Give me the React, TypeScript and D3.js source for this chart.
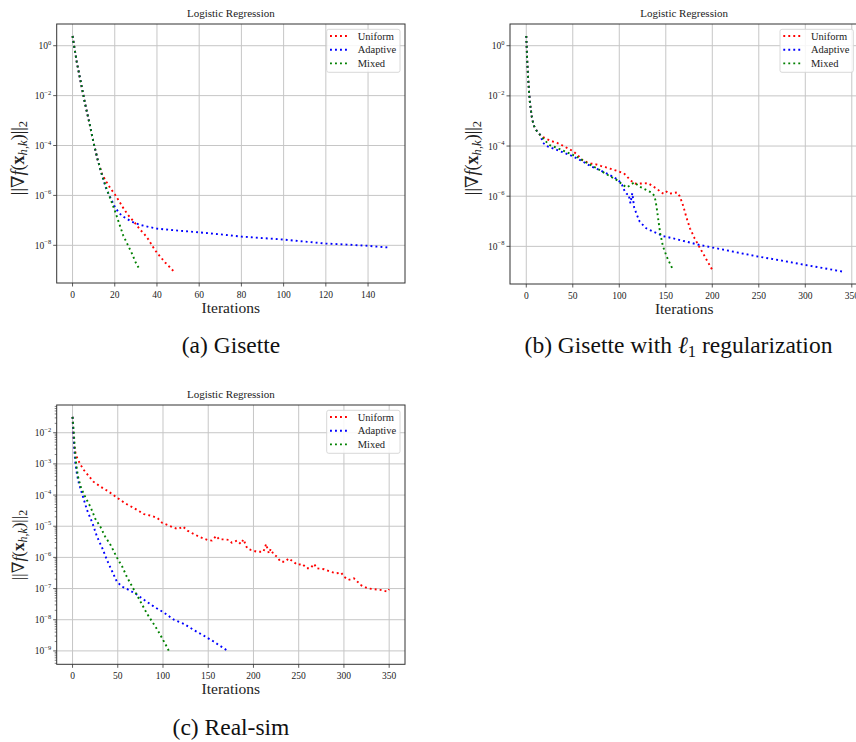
import React from 'react';
import * as d3 from 'd3';

// (a) Gisette
const gisetteUniformIter = [0, 2, 4, 6, 8, 10, 12, 14, 16, 18, 20, 22, 24, 26, 28, 30, 32, 34, 36, 38, 40, 42, 44, 46, 48];
const gisetteUniformExp = [0.39, -0.65, -1.5, -2.35, -3.1, -3.9, -4.6, -5.15, -5.45, -5.72, -5.95, -6.22, -6.5, -6.75, -6.95, -7.15, -7.37, -7.55, -7.77, -8.05, -8.3, -8.5, -8.7, -8.87, -9.05];
const gisetteAdaptiveIter = [0, 2, 4, 6, 8, 10, 12, 14, 16, 18, 20, 22, 24, 26, 28, 30, 32, 36, 40, 50, 60, 70, 80, 90, 100, 110, 120, 130, 140, 150];
const gisetteAdaptiveExp = [0.39, -0.65, -1.5, -2.35, -3.1, -3.9, -4.6, -5.2, -5.75, -6.1, -6.45, -6.7, -6.85, -6.95, -7.05, -7.12, -7.18, -7.26, -7.33, -7.41, -7.48, -7.56, -7.65, -7.71, -7.77, -7.85, -7.93, -7.97, -8.02, -8.09];
const gisetteMixedIter = [0, 2, 4, 6, 8, 10, 12, 14, 16, 18, 20, 22, 24, 26, 28, 30, 32];
const gisetteMixedExp = [0.39, -0.65, -1.5, -2.35, -3.1, -3.9, -4.6, -5.2, -5.7, -6.15, -6.6, -7.1, -7.6, -7.95, -8.3, -8.7, -9.0];

// (b) Gisette with l1 regularization
const l1UniformIter = [0, 1, 2, 3, 4, 6, 8, 11, 15, 18, 22, 27, 33, 38, 45, 50, 55, 60, 65, 70, 75, 80, 85, 90, 95, 100, 105, 108, 111, 116, 120, 126, 131, 136, 141, 145, 148, 151, 154, 158, 162, 165, 168, 170, 172, 176, 181, 187, 194, 200];
const l1UniformExp = [0.39, -0.6, -1.3, -1.85, -2.3, -2.85, -3.18, -3.38, -3.56, -3.64, -3.72, -3.8, -3.87, -3.96, -4.1, -4.2, -4.35, -4.55, -4.64, -4.7, -4.73, -4.79, -4.84, -4.9, -4.96, -5.02, -5.09, -5.2, -5.33, -5.49, -5.5, -5.49, -5.48, -5.6, -5.72, -5.85, -5.91, -5.82, -5.9, -5.87, -5.85, -6.0, -6.3, -6.55, -6.82, -7.28, -7.68, -8.08, -8.54, -8.94];
const l1AdaptiveIter = [0, 1, 2, 3, 4, 6, 8, 11, 15, 18, 22, 27, 36, 47, 58, 70, 79, 90, 99, 103, 106, 108, 110, 112, 114, 116, 119, 122, 129, 137, 147, 158, 172, 187, 201, 225, 250, 275, 300, 320, 341];
const l1AdaptiveExp = [0.39, -0.6, -1.3, -1.85, -2.3, -2.85, -3.18, -3.38, -3.56, -3.87, -4.0, -4.07, -4.2, -4.36, -4.56, -4.82, -4.96, -5.16, -5.35, -5.55, -5.82, -5.91, -5.92, -6.28, -5.88, -6.45, -6.75, -7.02, -7.28, -7.42, -7.59, -7.68, -7.81, -7.95, -8.05, -8.23, -8.41, -8.57, -8.74, -8.87, -9.01];
const l1MixedIter = [0, 1, 2, 3, 4, 6, 8, 11, 15, 20, 25, 34, 45, 54, 65, 76, 86, 97, 104, 108, 111, 116, 122, 129, 135, 138, 140, 142, 144, 147, 151, 157];
const l1MixedExp = [0.39, -0.6, -1.3, -1.85, -2.3, -2.85, -3.18, -3.38, -3.56, -3.78, -3.96, -4.09, -4.27, -4.42, -4.67, -4.89, -5.12, -5.35, -5.55, -5.65, -5.58, -5.45, -5.62, -5.75, -5.86, -6.0, -6.4, -6.95, -7.48, -8.0, -8.41, -8.88];

// (c) Real-sim
const realUniformIter = [0, 1, 2, 3, 5, 8, 12, 18, 23, 31, 40, 49, 58, 68, 79, 88, 94, 99, 105, 112, 117, 122, 127, 134, 141, 149, 154, 159, 162, 167, 173, 176, 182, 186, 189, 193, 197, 204, 211, 214, 217, 219, 222, 226, 230, 235, 239, 244, 249, 254, 259, 263, 267, 270, 278, 285, 292, 297, 300, 305, 311, 315, 318, 326, 333, 340, 348, 350];
const realUniformExp = [-1.49, -2.1, -2.45, -2.62, -2.8, -2.98, -3.18, -3.39, -3.57, -3.73, -3.89, -4.08, -4.26, -4.42, -4.61, -4.67, -4.74, -4.89, -4.96, -5.05, -5.09, -5.01, -5.14, -5.25, -5.35, -5.44, -5.46, -5.31, -5.42, -5.42, -5.44, -5.53, -5.46, -5.57, -5.42, -5.71, -5.76, -5.82, -5.82, -5.57, -5.87, -5.73, -5.89, -5.98, -6.14, -6.14, -6.03, -6.14, -6.24, -6.21, -6.35, -6.35, -6.21, -6.35, -6.38, -6.46, -6.51, -6.49, -6.62, -6.72, -6.67, -6.78, -6.88, -6.99, -7.02, -7.04, -7.1, -7.02];
const realAdaptiveIter = [0, 1, 2, 3, 5, 7, 11, 16, 22, 27, 33, 38, 44, 49, 55, 62, 70, 79, 90, 101, 112, 123, 134, 145, 156, 171];
const realAdaptiveExp = [-1.49, -2.05, -2.55, -2.95, -3.35, -3.62, -4.0, -4.48, -4.9, -5.33, -5.71, -6.08, -6.46, -6.78, -6.94, -7.04, -7.17, -7.36, -7.58, -7.77, -8.0, -8.13, -8.33, -8.51, -8.7, -8.99];
const realMixedIter = [0, 1, 2, 3, 4, 6, 9, 13, 20, 25, 31, 36, 42, 49, 55, 60, 66, 71, 77, 82, 88, 94, 99, 105, 107];
const realMixedExp = [-1.49, -1.85, -2.25, -2.7, -3.0, -3.4, -3.73, -4.0, -4.39, -4.75, -5.03, -5.33, -5.6, -6.0, -6.3, -6.62, -6.94, -7.2, -7.52, -7.79, -8.06, -8.33, -8.59, -8.91, -9.04];

const legendNames = ['Uniform', 'Adaptive', 'Mixed'];
const colors = ['#ff0000', '#0000ff', '#008000'];

const xTicksGisette = [0, 20, 40, 60, 80, 100, 120, 140];
const xTicksWide = [0, 50, 100, 150, 200, 250, 300, 350];
const yTicksEven = [0, -2, -4, -6, -8];
const yTicksAll = [-2, -3, -4, -5, -6, -7, -8, -9];

const FONT = '"Liberation Serif", "DejaVu Serif", serif';

type Series = { iter: number[]; exp: number[] };

type PanelProps = {
  left: number; top: number; width: number; height: number;
  xDomain: [number, number]; yExpDomain: [number, number];
  xTicks: number[]; yTicks: number[]; minor: boolean;
  series: Series[];
  labelY: number; labelSize: number;
};

function Panel(p: PanelProps) {
  const x = d3.scaleLinear().domain(p.xDomain).range([p.left, p.left + p.width]);
  const y = d3.scaleLog().domain([10 ** p.yExpDomain[0], 10 ** p.yExpDomain[1]]).range([p.top + p.height, p.top]);
  const line = d3.line<[number, number]>().x(d => x(d[0])).y(d => y(d[1]));
  const bottom = p.top + p.height;
  const right = p.left + p.width;

  const minorVals: number[] = [];
  if (p.minor) {
    for (let e = -10; e <= 0; e++) {
      for (let k = 2; k <= 9; k++) {
        const v = k * 10 ** e;
        if (Math.log10(v) > p.yExpDomain[0] && Math.log10(v) < p.yExpDomain[1]) minorVals.push(v);
      }
    }
  }

  const lx = right - 5 - 73.3;
  const ly = p.top + 5.3;

  return (
    <g fontFamily={FONT}>
      {/* grid */}
      {p.xTicks.map(t => (
        <line key={'gx' + t} x1={x(t)} x2={x(t)} y1={p.top} y2={bottom} stroke="#c6c6c6" strokeWidth={1} />
      ))}
      {p.yTicks.map(e => (
        <line key={'gy' + e} x1={p.left} x2={right} y1={y(10 ** e)} y2={y(10 ** e)} stroke="#c6c6c6" strokeWidth={1} />
      ))}

      {/* series */}
      {p.series.map((s, i) => (
        <path
          key={'s' + i}
          d={line(s.iter.map((t, j) => [t, 10 ** s.exp[j]] as [number, number])) || ''}
          fill="none"
          stroke={colors[i]}
          strokeWidth={1.9}
          strokeDasharray="1.9 3.1"
        />
      ))}

      {/* spines */}
      <rect x={p.left} y={p.top} width={p.width} height={p.height} fill="none" stroke="#333" strokeWidth={1} />

      {/* x ticks */}
      {p.xTicks.map(t => (
        <g key={'xt' + t}>
          <line x1={x(t)} x2={x(t)} y1={bottom} y2={bottom + 3.5} stroke="#333" strokeWidth={0.8} />
          <text x={x(t)} y={bottom + 15} fontSize={9.5} textAnchor="middle" fill="#222">{t}</text>
        </g>
      ))}

      {/* y ticks */}
      {p.yTicks.map(e => (
        <g key={'yt' + e}>
          <line x1={p.left - 3.5} x2={p.left} y1={y(10 ** e)} y2={y(10 ** e)} stroke="#333" strokeWidth={0.8} />
          <text x={p.left - 5.5} y={y(10 ** e) + 3.5} fontSize={9.5} textAnchor="end" fill="#222">
            <tspan>10</tspan>
            <tspan dy={-4.5} fontSize={6.5}>{e === 0 ? '0' : '\u2212' + Math.abs(e)}</tspan>
          </text>
        </g>
      ))}
      {minorVals.map(v => (
        <line key={'mt' + v} x1={p.left - 2} x2={p.left} y1={y(v)} y2={y(v)} stroke="#333" strokeWidth={0.6} />
      ))}

      {/* title and axis labels */}
      <text x={(p.left + right) / 2} y={p.top - 7.5} fontSize={11} textAnchor="middle" fill="#222">Logistic Regression</text>
      <text x={(p.left + right) / 2} y={bottom + 30} fontSize={15.5} textAnchor="middle" fill="#222">Iterations</text>
      <text
        transform={`translate(${p.left - 32.5},${p.labelY}) rotate(-90)`}
        fontSize={p.labelSize}
        textAnchor="middle"
        fill="#222"
      >
        <tspan>||∇</tspan>
        <tspan fontStyle="italic">f</tspan>
        <tspan>(</tspan>
        <tspan fontWeight="bold">x</tspan>
        <tspan fontStyle="italic" fontSize={p.labelSize * 0.7} dy={3}>h,k</tspan>
        <tspan dy={-3}>)||</tspan>
        <tspan fontSize={p.labelSize * 0.7} dy={3}>2</tspan>
      </text>

      {/* legend */}
      <rect x={lx} y={ly} width={73.3} height={43} rx={2} fill="#fff" fillOpacity={0.85} stroke="#d4d4d4" strokeWidth={0.9} />
      {legendNames.map((name, i) => (
        <g key={'lg' + name}>
          <line
            x1={lx + 3.3}
            x2={lx + 21.3}
            y1={ly + 6.7 + i * 13.7}
            y2={ly + 6.7 + i * 13.7}
            stroke={colors[i]}
            strokeWidth={1.9}
            strokeDasharray="1.9 3.1"
          />
          <text x={lx + 31} y={ly + 10.2 + i * 13.7} fontSize={10.5} fill="#222">{name}</text>
        </g>
      ))}
    </g>
  );
}

export default function App() {
  return (
    <svg width={856} height={742} style={{ position: 'absolute', left: 0, top: 0, background: '#fff' }}>
      <Panel
        left={56.7} top={24} width={348.3} height={259}
        xDomain={[-7.5, 157.5]} yExpDomain={[-9.51, 0.87]}
        xTicks={xTicksGisette} yTicks={yTicksEven} minor={false}
        series={[
          { iter: gisetteUniformIter, exp: gisetteUniformExp },
          { iter: gisetteAdaptiveIter, exp: gisetteAdaptiveExp },
          { iter: gisetteMixedIter, exp: gisetteMixedExp },
        ]}
        labelY={158} labelSize={18}
      />
      <Panel
        left={510} top={24} width={348.3} height={260}
        xDomain={[-17.5, 357]} yExpDomain={[-9.5, 0.865]}
        xTicks={xTicksWide} yTicks={yTicksEven} minor={false}
        series={[
          { iter: l1UniformIter, exp: l1UniformExp },
          { iter: l1AdaptiveIter, exp: l1AdaptiveExp },
          { iter: l1MixedIter, exp: l1MixedExp },
        ]}
        labelY={158} labelSize={18}
      />
      <Panel
        left={56.7} top={405} width={348.3} height={259.3}
        xDomain={[-17.5, 367.5]} yExpDomain={[-9.43, -1.11]}
        xTicks={xTicksWide} yTicks={yTicksAll} minor={true}
        series={[
          { iter: realUniformIter, exp: realUniformExp },
          { iter: realAdaptiveIter, exp: realAdaptiveExp },
          { iter: realMixedIter, exp: realMixedExp },
        ]}
        labelY={545} labelSize={17}
      />

      <g fontFamily={FONT} fill="#111" fontSize={23.5}>
        <text x={231} y={353} textAnchor="middle">(a) Gisette</text>
        <text x={678.5} y={353} textAnchor="middle">
          <tspan>(b) Gisette with </tspan>
          <tspan fontStyle="italic">ℓ</tspan>
          <tspan fontSize={16.5} dy={4}>1</tspan>
          <tspan dy={-4}> regularization</tspan>
        </text>
        <text x={231} y={734.5} textAnchor="middle">(c) Real-sim</text>
      </g>
    </svg>
  );
}
